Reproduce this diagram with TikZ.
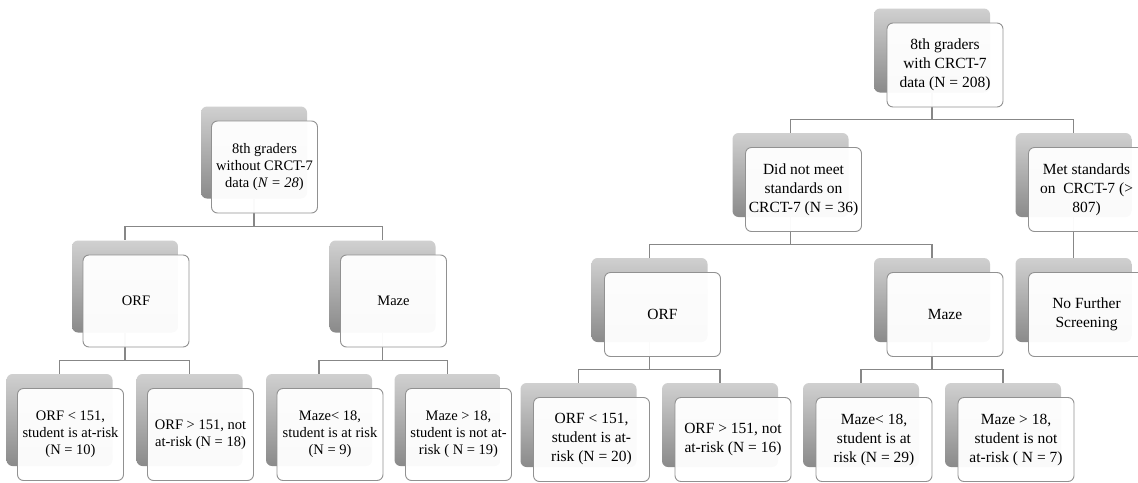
\documentclass[tikz,border=0pt]{standalone}
\usepackage{fontspec}
\setmainfont{Liberation Serif}
\usetikzlibrary{positioning,calc}
\definecolor{backtop}{RGB}{208,208,208}
\definecolor{backbot}{RGB}{138,138,138}
\definecolor{edgegray}{RGB}{145,145,145}
\definecolor{linkgray}{RGB}{135,135,135}
\tikzset{
  backbox/.style={rounded corners=6pt, top color=backtop, bottom color=backbot, inner sep=0pt},
  lback/.style={backbox, minimum width=106pt, minimum height=92pt},
  rback/.style={backbox, minimum width=116pt, minimum height=84pt},
  frontbox/.style={draw=edgegray, line width=0.9pt, rounded corners=6pt, fill=white, fill opacity=0.96, text opacity=1, align=center, inner sep=0pt},
  lfront/.style={frontbox, minimum width=106pt, minimum height=92pt, font=\fontsize{14.5}{17}\selectfont},
  rfront/.style={frontbox, minimum width=116pt, minimum height=84pt, font=\fontsize{15.5}{19}\selectfont},
  link/.style={draw=linkgray, line width=1.1pt}
}
\begin{document}
\begin{tikzpicture}[x=1pt,y=-1pt]
  \useasboundingbox (0,0) rectangle (1138,482);
  \clip (0,0) rectangle (1138,482);
  % back shapes, left tree
  \node[lback] (l0) at (254,152.5) {};
  \node[lback] (l1) at (125,286.5) {};
  \node[lback] (l2) at (382.5,286.5) {};
  \node[lback] (l3) at (59.5,420) {};
  \node[lback] (l4) at (189.5,420) {};
  \node[lback] (l5) at (319,420) {};
  \node[lback] (l6) at (447.5,420) {};
  % back shapes, right tree
  \node[rback] (r0) at (932,50.5) {};
  \node[rback] (r1) at (790.5,175) {};
  \node[rback] (r2) at (1073.5,175) {};
  \node[rback] (r3) at (649.5,300) {};
  \node[rback] (r4) at (932,300) {};
  \node[rback] (r5) at (1073.5,300) {};
  \node[rback] (r6) at (578.5,425) {};
  \node[rback] (r7) at (720,425) {};
  \node[rback] (r8) at (861,425) {};
  \node[rback] (r9) at (1003,425) {};
  % connectors
  \foreach \p/\c in {l0/l1,l0/l2,l1/l3,l1/l4,l2/l5,l2/l6,
                     r0/r1,r0/r2,r1/r3,r1/r4,r2/r5,r3/r6,r3/r7,r4/r8,r4/r9}
    \draw[link] (\p.south) |- ([yshift=13.5pt]\c.north) -- (\c.north);
  % front boxes with text
  \node[lfront] (l0t) at ([shift={(10.5pt,-14.5pt)}]l0.center) {8th graders\\ without CRCT-7\\ data (\textit{N = 28})};
  \node[lfront] (l1t) at ([shift={(11pt,-14.5pt)}]l1.center) {ORF};
  \node[lfront] (l2t) at ([shift={(11pt,-14.5pt)}]l2.center) {Maze};
  \node[lfront] (l3t) at ([shift={(11pt,-14.5pt)}]l3.center) {ORF < 151,\\ student is at-risk\\ (N = 10)};
  \node[lfront] (l4t) at ([shift={(11pt,-14.5pt)}]l4.center) {ORF > 151, not\\ at-risk (N = 18)};
  \node[lfront] (l5t) at ([shift={(11pt,-14.5pt)}]l5.center) {Maze< 18,\\ student is at risk\\ (N = 9)};
  \node[lfront] (l6t) at ([shift={(11pt,-14.5pt)}]l6.center) {Maze > 18,\\ student is not at-\\ risk ( N = 19)};
  \node[rfront] (r0t) at ([shift={(13pt,-14.5pt)}]r0.center) {8th graders\\ with CRCT-7\\ data (N = 208)};
  \node[rfront] (r1t) at ([shift={(13pt,-14.5pt)}]r1.center) {Did not meet\\ standards on\\ CRCT-7 (N = 36)};
  \node[rfront] (r2t) at ([shift={(13pt,-14.5pt)}]r2.center) {Met standards\\ on\ \ CRCT-7 (>\\ 807)};
  \node[rfront] (r3t) at ([shift={(13pt,-14.5pt)}]r3.center) {ORF};
  \node[rfront] (r4t) at ([shift={(13pt,-14.5pt)}]r4.center) {Maze};
  \node[rfront] (r5t) at ([shift={(13pt,-14.5pt)}]r5.center) {No Further\\ Screening};
  \node[rfront] (r6t) at ([shift={(13pt,-14.5pt)}]r6.center) {ORF < 151,\\ student is at-\\ risk (N = 20)};
  \node[rfront] (r7t) at ([shift={(13pt,-14.5pt)}]r7.center) {ORF > 151, not\\ at-risk (N = 16)};
  \node[rfront] (r8t) at ([shift={(13pt,-14.5pt)}]r8.center) {Maze< 18,\\ student is at\\ risk (N = 29)};
  \node[rfront] (r9t) at ([shift={(13pt,-14.5pt)}]r9.center) {Maze > 18,\\ student is not\\ at-risk ( N = 7)};
\end{tikzpicture}
\end{document}
